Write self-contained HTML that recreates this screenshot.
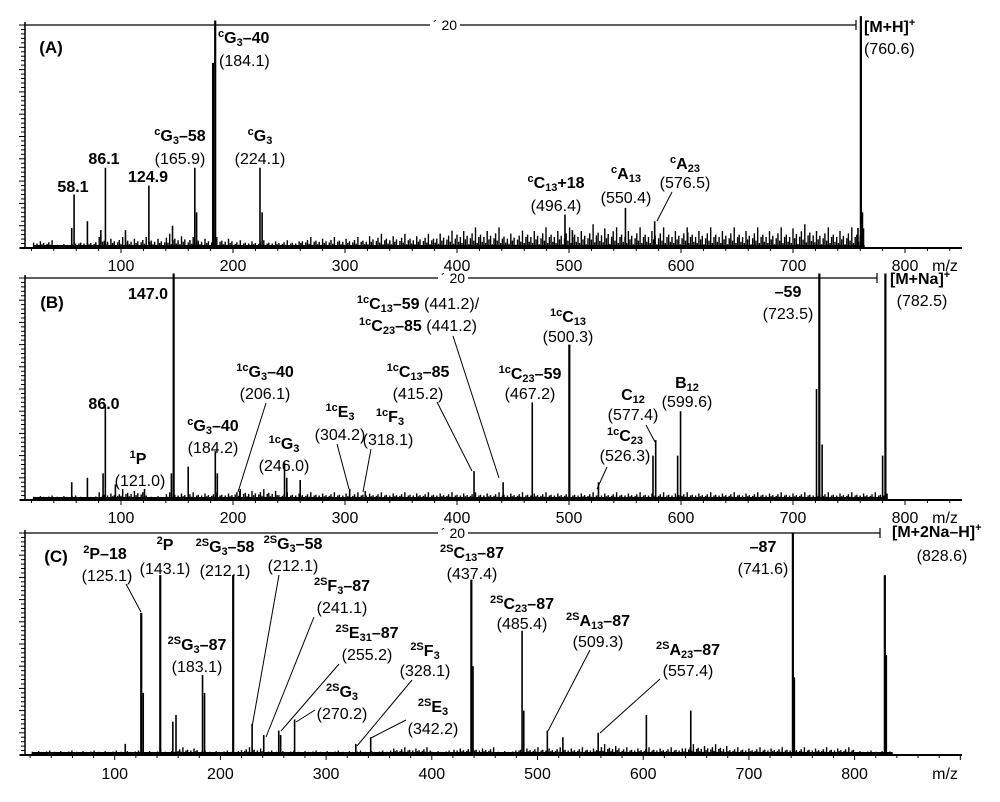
<!DOCTYPE html>
<html><head><meta charset="utf-8">
<style>
html,body{margin:0;padding:0;background:#fff;}
#wrap{position:relative;width:1000px;height:802px;overflow:hidden;font-family:"Liberation Sans",Arial,sans-serif;color:#000;}
svg{position:absolute;left:0;top:0;}
.l{position:absolute;transform:translate(-50%,-50%);white-space:nowrap;font-size:16px;line-height:16px;}
.b{font-weight:bold;}
.t{font-size:17px;}
.l sup,.l sub{font-size:11px;line-height:0;font-weight:bold;}
.l sub{vertical-align:-3px;}
.l sup{vertical-align:6px;}
.la{transform:translate(0,-50%);}
</style></head><body>
<div id="wrap">
<svg id="svg" width="1000" height="802"></svg>

<!-- Panel A labels -->
<div class="l b t" style="left:51px;top:48px">(A)</div>
<div class="l b" style="left:73px;top:188px">58.1</div>
<div class="l b" style="left:104px;top:160px">86.1</div>
<div class="l b" style="left:148px;top:178px">124.9</div>
<div class="l b" style="left:180px;top:137px"><sup>c</sup>G<sub>3</sub>–58</div>
<div class="l" style="left:180px;top:160px">(165.9)</div>
<div class="l b la" style="left:218px;top:39px"><sup>c</sup>G<sub>3</sub>–40</div>
<div class="l la" style="left:219px;top:62px">(184.1)</div>
<div class="l b" style="left:260px;top:137px"><sup>c</sup>G<sub>3</sub></div>
<div class="l" style="left:260px;top:160px">(224.1)</div>
<div class="l b" style="left:556px;top:184px"><sup>c</sup>C<sub>13</sub>+18</div>
<div class="l" style="left:556px;top:207px">(496.4)</div>
<div class="l b" style="left:626px;top:175px"><sup>c</sup>A<sub>13</sub></div>
<div class="l" style="left:626px;top:199px">(550.4)</div>
<div class="l b" style="left:685px;top:165px"><sup>c</sup>A<sub>23</sub></div>
<div class="l" style="left:685px;top:184px">(576.5)</div>
<div class="l b la" style="left:864px;top:28px">[M+H]<sup>+</sup></div>
<div class="l la" style="left:864px;top:50px">(760.6)</div>

<!-- Panel B labels -->
<div class="l b t" style="left:52px;top:303px">(B)</div>
<div class="l b" style="left:148px;top:295px">147.0</div>
<div class="l b" style="left:104px;top:405px">86.0</div>
<div class="l b" style="left:138px;top:460px"><sup>1</sup>P</div>
<div class="l" style="left:140px;top:482px">(121.0)</div>
<div class="l b" style="left:213px;top:427px"><sup>c</sup>G<sub>3</sub>–40</div>
<div class="l" style="left:213px;top:449px">(184.2)</div>
<div class="l b" style="left:265px;top:373px"><sup>1c</sup>G<sub>3</sub>–40</div>
<div class="l" style="left:265px;top:395px">(206.1)</div>
<div class="l b" style="left:284px;top:445px"><sup>1c</sup>G<sub>3</sub></div>
<div class="l" style="left:284px;top:467px">(246.0)</div>
<div class="l b" style="left:340px;top:413px"><sup>1c</sup>E<sub>3</sub></div>
<div class="l" style="left:340px;top:436px">(304.2)</div>
<div class="l b" style="left:390px;top:418px"><sup>1c</sup>F<sub>3</sub></div>
<div class="l" style="left:388px;top:441px">(318.1)</div>
<div class="l" style="left:418px;top:305px"><b><sup>1c</sup>C<sub>13</sub>–59</b> (441.2)/</div>
<div class="l" style="left:418px;top:327px"><b><sup>1c</sup>C<sub>23</sub>–85</b> (441.2)</div>
<div class="l b" style="left:418px;top:373px"><sup>1c</sup>C<sub>13</sub>–85</div>
<div class="l" style="left:418px;top:395px">(415.2)</div>
<div class="l b" style="left:530px;top:375px"><sup>1c</sup>C<sub>23</sub>–59</div>
<div class="l" style="left:530px;top:395px">(467.2)</div>
<div class="l b" style="left:568px;top:318px"><sup>1c</sup>C<sub>13</sub></div>
<div class="l" style="left:568px;top:338px">(500.3)</div>
<div class="l b" style="left:633px;top:396px">C<sub>12</sub></div>
<div class="l" style="left:633px;top:416px">(577.4)</div>
<div class="l b" style="left:625px;top:437px"><sup>1c</sup>C<sub>23</sub></div>
<div class="l" style="left:625px;top:457px">(526.3)</div>
<div class="l b" style="left:687px;top:384px">B<sub>12</sub></div>
<div class="l" style="left:687px;top:403px">(599.6)</div>
<div class="l b" style="left:788px;top:293px">–59</div>
<div class="l" style="left:788px;top:315px">(723.5)</div>
<div class="l b la" style="left:890px;top:280px">[M+Na]<sup>+</sup></div>
<div class="l" style="left:922px;top:302px">(782.5)</div>

<!-- Panel C labels -->
<div class="l b t" style="left:56px;top:557px">(C)</div>
<div class="l b" style="left:105px;top:555px"><sup>2</sup>P–18</div>
<div class="l" style="left:107px;top:577px">(125.1)</div>
<div class="l b" style="left:165px;top:546px"><sup>2</sup>P</div>
<div class="l" style="left:165px;top:570px">(143.1)</div>
<div class="l b" style="left:225px;top:548px"><sup>2S</sup>G<sub>3</sub>–58</div>
<div class="l" style="left:225px;top:572px">(212.1)</div>
<div class="l b" style="left:293px;top:545px"><sup>2S</sup>G<sub>3</sub>–58</div>
<div class="l" style="left:293px;top:567px">(212.1)</div>
<div class="l b" style="left:342px;top:587px"><sup>2S</sup>F<sub>3</sub>–87</div>
<div class="l" style="left:342px;top:609px">(241.1)</div>
<div class="l b" style="left:367px;top:634px"><sup>2S</sup>E<sub>31</sub>–87</div>
<div class="l" style="left:367px;top:656px">(255.2)</div>
<div class="l b" style="left:197px;top:646px"><sup>2S</sup>G<sub>3</sub>–87</div>
<div class="l" style="left:197px;top:668px">(183.1)</div>
<div class="l b" style="left:425px;top:652px"><sup>2S</sup>F<sub>3</sub></div>
<div class="l" style="left:425px;top:672px">(328.1)</div>
<div class="l b" style="left:342px;top:693px"><sup>2S</sup>G<sub>3</sub></div>
<div class="l" style="left:342px;top:715px">(270.2)</div>
<div class="l b" style="left:433px;top:708px"><sup>2S</sup>E<sub>3</sub></div>
<div class="l" style="left:433px;top:730px">(342.2)</div>
<div class="l b" style="left:472px;top:554px"><sup>2S</sup>C<sub>13</sub>–87</div>
<div class="l" style="left:472px;top:575px">(437.4)</div>
<div class="l b" style="left:522px;top:605px"><sup>2S</sup>C<sub>23</sub>–87</div>
<div class="l" style="left:522px;top:625px">(485.4)</div>
<div class="l b" style="left:598px;top:622px"><sup>2S</sup>A<sub>13</sub>–87</div>
<div class="l" style="left:598px;top:643px">(509.3)</div>
<div class="l b" style="left:688px;top:651px"><sup>2S</sup>A<sub>23</sub>–87</div>
<div class="l" style="left:688px;top:672px">(557.4)</div>
<div class="l b" style="left:763px;top:548px">–87</div>
<div class="l" style="left:763px;top:570px">(741.6)</div>
<div class="l b la" style="left:892px;top:533px">[M+2Na–H]<sup>+</sup></div>
<div class="l" style="left:942px;top:557px">(828.6)</div>
</div>

<script>
// ---- Panel A data (m/z, relative intensity % of full scale) ----
const peaksAmz  = [56, 58.1, 70, 82, 86.1, 104, 124.9, 146, 165.9, 167.5, 182.2, 184.1, 224.1, 226, 496.4, 503, 550.4, 576.5, 606, 758, 760.6, 762];
const peaksAint = [9, 24, 12, 8, 36, 8, 28, 10, 36, 16, 83, 102, 36, 16, 15, 8, 18, 12, 7, 9, 104, 16];
// noise floor every 20 m/z from 20
const noiseA = [2,1,2,3,3,3,4,3,3,2,2,2,3,3,3,4,4,4,5,6,6,5,6,6,6,7,6,6,6,6,6,6,6,6,7,6,6,7];
const noiseEndA = 764;
// ---- Panel B data ----
const peaksBmz  = [56, 70, 84, 86.0, 95, 121.0, 145, 147.0, 160, 184.2, 186, 206.1, 246.0, 248, 260, 304.2, 318.1, 415.2, 441.2, 467.2, 500.3, 526.3, 575, 577.4, 597, 599.6, 721, 723.5, 726, 780, 782.5];
const peaksBint = [8, 10, 12, 43, 7, 5, 12, 102, 15, 22, 12, 4, 17, 10, 9, 5, 4, 13, 8, 44, 70, 8, 20, 27, 20, 40, 50, 102, 25, 20, 102];
const noiseB = [1,1,1,2,3,1,2,2,2,3,3,2,2,2,2,2,2,2,2,2,2,2,2,2,2,2,2,2,2,2,2,2,2,2,2,2,2,2,2];
const noiseEndB = 784;
// ---- Panel C data ----
const peaksCmz  = [110, 125.1, 127, 143.1, 155, 158, 183.1, 185, 212.1, 230, 241, 255.2, 257, 270.2, 328.1, 342.2, 437.4, 439, 485.4, 487, 509.3, 524, 557.4, 603, 645, 741.6, 743, 828.6, 830];
const peaksCint = [5, 64, 28, 81, 15, 18, 36, 28, 81, 14, 9, 11, 9, 16, 5, 8, 79, 40, 56, 20, 11, 8, 10, 18, 20, 100, 35, 81, 45];
const noiseC = [1,1,1,1,1,1,1,2,1,1,2,1,1,1,1,1,1,2,2,1,2,2,1,2,2,2,2,3,2,2,2,3,3,2,2,2,2,2,2,1,1];
const noiseEndC = 836;
const xTicks = [100, 200, 300, 400, 500, 600, 700, 800];

// leader lines [x1,y1,x2,y2] in pixels (annotation geometry)
const leadersA = [[672,192,657,221]];
const leadersB = [[266,403,238,492],[337,444,349,489],[371,449,363,492],[437,402,472,471],[453,336,499,478],[607,467,597,489],[646,425,655,442]];
const leadersC = [[126,584,141,612],[279,575,252,727],[314,617,266,737],[339,664,281,731],[315,710,296,722],[412,680,357,746],[406,720,371,738],[590,650,548,731],[660,679,600,733]];
// fixed modulation pattern giving the noise its spiky look
const spike = [1,0.4,0.8,0.3,1.3,0.6,0.9,0.2,0.7,1.1,0.5,1.6,0.3,0.8];

const NS = 'http://www.w3.org/2000/svg';
const svg = document.getElementById('svg');
function mk(tag, attrs, parent) {
  const e = document.createElementNS(NS, tag);
  for (const k in attrs) e.setAttribute(k, attrs[k]);
  (parent || svg).appendChild(e);
  return e;
}

const panels = [
  {id:'a', top:25, base:248, x0:9, k:1.12, axisEnd:962, lineEnd:856, lblY:265, mz:peaksAmz, it:peaksAint, noise:noiseA, nEnd:noiseEndA, leaders:leadersA, gapX:440},
  {id:'b', top:278, base:500, x0:9, k:1.12, axisEnd:962, lineEnd:877, lblY:517, mz:peaksBmz, it:peaksBint, noise:noiseB, nEnd:noiseEndB, leaders:leadersB, gapX:448},
  {id:'c', top:533, base:755, x0:9, k:1.057, axisEnd:962, lineEnd:880, lblY:773, mz:peaksCmz, it:peaksCint, noise:noiseC, nEnd:noiseEndC, leaders:leadersC, gapX:448}
];

panels.forEach(p => {
  const g = mk('g', {});
  
  
  const X = m => p.x0 + m * p.k;
  const H = p.base - p.top;
  const Y = v => p.base - v / 100 * H;

  // y axis
  const ya = mk('line', {x1:25, y1:p.top - 3, x2:25, y2:p.base, stroke:'#000', 'stroke-width':1.5}, g);
  
  
  for (let i = 0; i <= 50; i++) {
    const y = p.base - i * H / 50;
    mk('line', {x1: i % 5 === 0 ? 19 : 21, y1:y, x2:25, y2:y, stroke:'#000', 'stroke-width':1}, g);
  }
  // x axis
  const xa = mk('line', {x1:20, y1:p.base, x2:p.axisEnd, y2:p.base, stroke:'#000', 'stroke-width':2}, g);
  
  
  for (let m = 20; X(m) <= p.axisEnd; m += 20) {
    mk('line', {x1:X(m), y1:p.base, x2:X(m), y2:p.base + (m % 100 === 0 ? 5 : 3), stroke:'#000', 'stroke-width':1}, g);
  }
  xTicks.forEach(t => {
    const tx = mk('text', {x:X(t), y:p.lblY + 6, 'text-anchor':'middle', 'font-size':16, 'font-family':'Liberation Sans, sans-serif'}, g);
    
    
    tx.textContent = t;
  });
  const mzl = mk('text', {x:945, y:p.lblY + 6, 'text-anchor':'middle', 'font-size':16, 'font-family':'Liberation Sans, sans-serif'}, g);
  
  
  mzl.textContent = 'm/z';

  // top scale line with "x20" marker
  mk('line', {x1:25, y1:p.top, x2:p.gapX - 10, y2:p.top, stroke:'#000', 'stroke-width':1.2}, g);
  mk('line', {x1:p.gapX + 20, y1:p.top, x2:p.lineEnd, y2:p.top, stroke:'#000', 'stroke-width':1.2}, g);
  mk('line', {x1:p.lineEnd, y1:p.top - 5, x2:p.lineEnd, y2:p.top + 5, stroke:'#000', 'stroke-width':1.2}, g);
  const zt = mk('text', {x:p.gapX + 5, y:p.top + 5, 'text-anchor':'middle', 'font-size':14, 'font-family':'Liberation Sans, sans-serif'}, g);
  
  
  zt.textContent = '´ 20';

  // noise floor: spiky thin lines every 1.5 m/z
  let d = '';
  let n = 0;
  for (let m = 22; m <= p.nEnd; m += 1.5, n++) {
    const idx = Math.min(p.noise.length - 1, Math.floor((m - 20) / 20));
    const v = p.noise[idx] * spike[n % spike.length] * 0.9 + 0.6;
    d += 'M' + X(m).toFixed(1) + ',' + p.base + 'V' + Y(v).toFixed(1);
  }
  const np = mk('path', {d:d, fill:'none', stroke:'#000', 'stroke-width':1.4}, g);
  
  
  mk('line', {x1:X(22), y1:p.base - 1.5, x2:X(p.nEnd), y2:p.base - 1.5, stroke:'#000', 'stroke-width':3}, g);

  // peaks
  p.mz.forEach((m, i) => {
    const ln = mk('line', {x1:X(m), y1:p.base, x2:X(m), y2:Y(p.it[i]), stroke:'#000', 'stroke-width': p.it[i] > 60 ? 2.2 : 1.6}, g);
    
    
  });

  // leader lines
  p.leaders.forEach(L => {
    const ll = mk('line', {x1:L[0], y1:L[1], x2:L[2], y2:L[3], stroke:'#000', 'stroke-width':1}, g);
    
    
  });
});
</script>
</body></html>
